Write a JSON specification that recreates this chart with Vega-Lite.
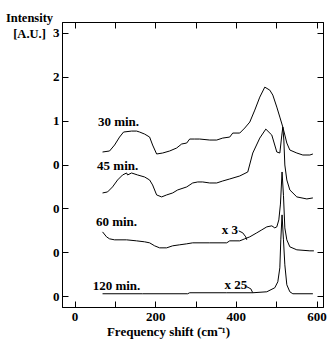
{
  "$schema": "https://vega.github.io/schema/vega-lite/v6.json",
  "autosize": "none",
  "width": 261,
  "height": 285,
  "padding": {"left": 62, "top": 22, "right": 10, "bottom": 39},
  "background": "white",
  "config": {
    "view": {"stroke": "black", "strokeWidth": 1},
    "axis": {
      "grid": false,
      "domainColor": "black",
      "tickColor": "black",
      "labelColor": "black",
      "titleColor": "black",
      "labelFont": "Liberation Serif",
      "labelFontWeight": "bold",
      "labelFontSize": 13,
      "titleFont": "Liberation Serif",
      "titleFontWeight": "bold",
      "titleFontSize": 12.5,
      "tickSize": -6,
      "labelPadding": 9
    }
  },
  "datasets": {
    "curves": [
      {"series": "30", "x": 69.5, "y": 0.284}, {"series": "30", "x": 86.9, "y": 0.307}, {"series": "30", "x": 99.3, "y": 0.443}, {"series": "30", "x": 111.7, "y": 0.624}, {"series": "30", "x": 121.6, "y": 0.738}, {"series": "30", "x": 141.5, "y": 0.76}, {"series": "30", "x": 153.9, "y": 0.76}, {"series": "30", "x": 161.4, "y": 0.738}, {"series": "30", "x": 173.8, "y": 0.692}, {"series": "30", "x": 186.2, "y": 0.624}, {"series": "30", "x": 193.6, "y": 0.443}, {"series": "30", "x": 203.6, "y": 0.239}, {"series": "30", "x": 218.5, "y": 0.261}, {"series": "30", "x": 235.9, "y": 0.307}, {"series": "30", "x": 253.2, "y": 0.375}, {"series": "30", "x": 265.6, "y": 0.466}, {"series": "30", "x": 278.1, "y": 0.488}, {"series": "30", "x": 285.5, "y": 0.579}, {"series": "30", "x": 297.9, "y": 0.579}, {"series": "30", "x": 310.3, "y": 0.579}, {"series": "30", "x": 335.2, "y": 0.556}, {"series": "30", "x": 352.5, "y": 0.556}, {"series": "30", "x": 367.4, "y": 0.601}, {"series": "30", "x": 384.8, "y": 0.624}, {"series": "30", "x": 392.3, "y": 0.715}, {"series": "30", "x": 409.6, "y": 0.715}, {"series": "30", "x": 422.0, "y": 0.829}, {"series": "30", "x": 434.5, "y": 0.965}, {"series": "30", "x": 446.9, "y": 1.237}, {"series": "30", "x": 459.3, "y": 1.532}, {"series": "30", "x": 471.7, "y": 1.759}, {"series": "30", "x": 484.1, "y": 1.691}, {"series": "30", "x": 491.6, "y": 1.578}, {"series": "30", "x": 501.5, "y": 1.305}, {"series": "30", "x": 509.0, "y": 1.078}, {"series": "30", "x": 516.4, "y": 0.851}, {"series": "30", "x": 521.4, "y": 0.67}, {"series": "30", "x": 526.3, "y": 0.488}, {"series": "30", "x": 533.8, "y": 0.329}, {"series": "30", "x": 551.1, "y": 0.261}, {"series": "30", "x": 566.0, "y": 0.216}, {"series": "30", "x": 583.4, "y": 0.216}, {"series": "30", "x": 590.9, "y": 0.239},

      {"series": "45", "x": 69.5, "y": -0.647}, {"series": "45", "x": 81.9, "y": -0.624}, {"series": "45", "x": 94.3, "y": -0.51}, {"series": "45", "x": 106.8, "y": -0.352}, {"series": "45", "x": 119.2, "y": -0.238}, {"series": "45", "x": 129.1, "y": -0.193}, {"series": "45", "x": 131.6, "y": -0.238}, {"series": "45", "x": 141.5, "y": -0.193}, {"series": "45", "x": 156.4, "y": -0.238}, {"series": "45", "x": 173.8, "y": -0.284}, {"series": "45", "x": 186.2, "y": -0.352}, {"series": "45", "x": 193.6, "y": -0.465}, {"series": "45", "x": 203.6, "y": -0.692}, {"series": "45", "x": 216.0, "y": -0.737}, {"series": "45", "x": 228.4, "y": -0.692}, {"series": "45", "x": 243.3, "y": -0.647}, {"series": "45", "x": 255.7, "y": -0.579}, {"series": "45", "x": 278.1, "y": -0.51}, {"series": "45", "x": 293.0, "y": -0.42}, {"series": "45", "x": 305.4, "y": -0.397}, {"series": "45", "x": 317.8, "y": -0.397}, {"series": "45", "x": 335.2, "y": -0.42}, {"series": "45", "x": 352.5, "y": -0.42}, {"series": "45", "x": 367.4, "y": -0.375}, {"series": "45", "x": 384.8, "y": -0.329}, {"series": "45", "x": 409.6, "y": -0.261}, {"series": "45", "x": 429.5, "y": -0.17}, {"series": "45", "x": 441.9, "y": 0.261}, {"series": "45", "x": 459.3, "y": 0.601}, {"series": "45", "x": 474.2, "y": 0.805}, {"series": "45", "x": 489.1, "y": 0.669}, {"series": "45", "x": 501.5, "y": 0.284}, {"series": "45", "x": 509.0, "y": 0.261}, {"series": "45", "x": 513.9, "y": 0.669}, {"series": "45", "x": 516.4, "y": 0.851}, {"series": "45", "x": 518.9, "y": 0.556}, {"series": "45", "x": 521.4, "y": -0.011}, {"series": "45", "x": 526.3, "y": -0.352}, {"series": "45", "x": 533.8, "y": -0.579}, {"series": "45", "x": 551.1, "y": -0.737}, {"series": "45", "x": 575.9, "y": -0.783}, {"series": "45", "x": 590.9, "y": -0.76},

      {"series": "60", "x": 69.5, "y": -1.532}, {"series": "60", "x": 79.4, "y": -1.645}, {"series": "60", "x": 86.9, "y": -1.69}, {"series": "60", "x": 99.3, "y": -1.713}, {"series": "60", "x": 129.1, "y": -1.713}, {"series": "60", "x": 153.9, "y": -1.736}, {"series": "60", "x": 173.8, "y": -1.758}, {"series": "60", "x": 186.2, "y": -1.781}, {"series": "60", "x": 198.6, "y": -1.849}, {"series": "60", "x": 211.0, "y": -1.895}, {"series": "60", "x": 228.4, "y": -1.895}, {"series": "60", "x": 243.3, "y": -1.849}, {"series": "60", "x": 260.7, "y": -1.826}, {"series": "60", "x": 278.1, "y": -1.804}, {"series": "60", "x": 293.0, "y": -1.781}, {"series": "60", "x": 335.2, "y": -1.781}, {"series": "60", "x": 377.4, "y": -1.781}, {"series": "60", "x": 384.8, "y": -1.736}, {"series": "60", "x": 409.6, "y": -1.736}, {"series": "60", "x": 422.0, "y": -1.69}, {"series": "60", "x": 434.5, "y": -1.645}, {"series": "60", "x": 451.8, "y": -1.554}, {"series": "60", "x": 464.3, "y": -1.486}, {"series": "60", "x": 476.7, "y": -1.418}, {"series": "60", "x": 489.1, "y": -1.395}, {"series": "60", "x": 496.5, "y": -1.441}, {"series": "60", "x": 501.5, "y": -1.418}, {"series": "60", "x": 506.5, "y": -1.26}, {"series": "60", "x": 510.5, "y": -0.9}, {"series": "60", "x": 514.5, "y": -0.17}, {"series": "60", "x": 518.0, "y": -0.7}, {"series": "60", "x": 521.4, "y": -1.441}, {"series": "60", "x": 526.3, "y": -1.713}, {"series": "60", "x": 533.8, "y": -1.872}, {"series": "60", "x": 551.1, "y": -1.94}, {"series": "60", "x": 583.4, "y": -1.963}, {"series": "60", "x": 593.4, "y": -1.963},

      {"series": "120", "x": 69.5, "y": -2.939}, {"series": "120", "x": 168.8, "y": -2.939}, {"series": "120", "x": 280.5, "y": -2.939}, {"series": "120", "x": 285.5, "y": -2.916}, {"series": "120", "x": 377.4, "y": -2.916}, {"series": "120", "x": 441.9, "y": -2.916}, {"series": "120", "x": 476.7, "y": -2.894}, {"series": "120", "x": 496.5, "y": -2.803}, {"series": "120", "x": 504.0, "y": -2.667}, {"series": "120", "x": 509.0, "y": -2.349}, {"series": "120", "x": 511.4, "y": -1.713}, {"series": "120", "x": 514.5, "y": -1.146}, {"series": "120", "x": 518.0, "y": -1.713}, {"series": "120", "x": 521.4, "y": -2.281}, {"series": "120", "x": 526.3, "y": -2.735}, {"series": "120", "x": 533.8, "y": -2.894}, {"series": "120", "x": 541.2, "y": -2.939}, {"series": "120", "x": 590.9, "y": -2.939},

      {"series": "arrow3", "x": 407.1, "y": -1.509}, {"series": "arrow3", "x": 417.1, "y": -1.554}, {"series": "arrow3", "x": 424.5, "y": -1.645}, {"series": "arrow3", "x": 427.0, "y": -1.713},
      {"series": "arrow25", "x": 427.0, "y": -2.78}, {"series": "arrow25", "x": 437.0, "y": -2.826}, {"series": "arrow25", "x": 441.9, "y": -2.916}
    ],
    "labels": [
      {"x": 109, "y": 0.965, "text": "30 min."},
      {"x": 107, "y": -0.034, "text": "45 min."},
      {"x": 104, "y": -1.305, "text": "60 min."},
      {"x": 104, "y": -2.757, "text": "120 min."},
      {"x": 385, "y": -1.486, "text": "x 3"},
      {"x": 400, "y": -2.735, "text": "x 25"}
    ]
  },
  "layer": [
    {
      "data": {"name": "curves"},
      "mark": {"type": "line", "color": "black", "strokeWidth": 1, "clip": true},
      "encoding": {
        "x": {
          "field": "x", "type": "quantitative",
          "scale": {"domain": [-31, 616], "nice": false, "zero": false},
          "axis": {
            "orient": "bottom",
            "values": [0, 100, 200, 300, 400, 500, 600],
            "labelExpr": "datum.value % 200 === 0 ? datum.label : ''",
            "title": "Frequency shift (cm⁻¹)",
            "titleFontSize": 13,
            "titleX": 106, "titleY": 24, "titleBaseline": "middle", "titleAlign": "center", "titleAnchor": null
          }
        },
        "y": {
          "field": "y", "type": "quantitative",
          "scale": {"domain": [-3.24, 3.24], "nice": false, "zero": false},
          "axis": {
            "orient": "left",
            "values": [-3, -2, -1, 0, 1, 2, 3],
            "labelExpr": "datum.value > 0 ? datum.label : '0'",
            "title": ["Intensity", "[A.U.]"],
            "titleAngle": 0, "titleAlign": "center", "titleBaseline": "top",
            "titleX": -33, "titleY": -11, "titleLineHeight": 16, "titleAnchor": null
          }
        },
        "detail": {"field": "series"}
      }
    },
    {
      "data": {"name": "labels"},
      "mark": {"type": "text", "font": "Liberation Serif", "fontWeight": "bold", "fontSize": 13, "color": "black", "align": "center", "baseline": "middle"},
      "encoding": {
        "x": {
          "field": "x", "type": "quantitative",
          "scale": {"domain": [-31, 616], "nice": false, "zero": false},
          "axis": {"orient": "top", "values": [0, 100, 200, 300, 400, 500, 600], "labels": false, "title": null}
        },
        "y": {
          "field": "y", "type": "quantitative",
          "scale": {"domain": [-3.24, 3.24], "nice": false, "zero": false},
          "axis": {"orient": "right", "values": [-3, -2, -1, 0, 1, 2, 3], "labels": false, "title": null}
        },
        "text": {"field": "text"}
      }
    }
  ],
  "resolve": {"axis": {"x": "independent", "y": "independent"}}
}
